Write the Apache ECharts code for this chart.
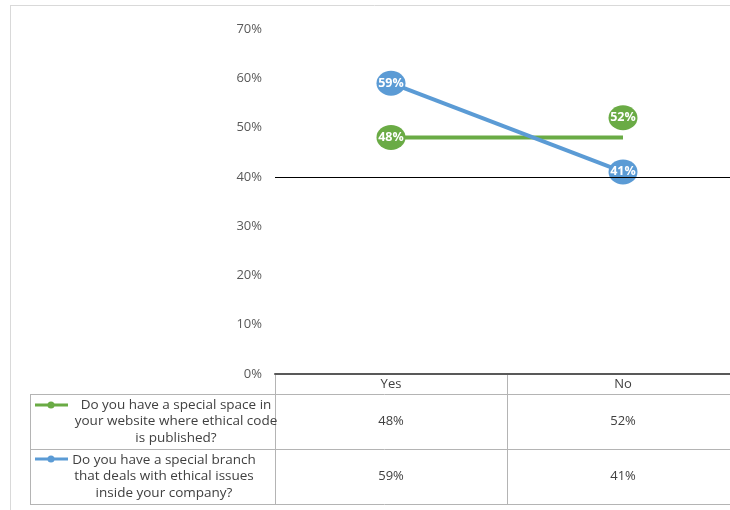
<!DOCTYPE html>
<html><head><meta charset="utf-8">
<script src="https://cdn.jsdelivr.net/npm/echarts@6/dist/echarts.min.js"></script>
<style>html,body{margin:0;padding:0;background:#fff;overflow:hidden;width:730px;height:510px}#c{width:739px;height:510px}</style>
</head><body><div id="c"></div>
<script>
// ---- data ----
const categories = ['Yes', 'No'];
const seriesNames = [
  'Do you have a special space in\nyour website where ethical code\nis published?',
  'Do you have a special branch\nthat deals with ethical issues\ninside your company?'
];
const greenValues = [48, 52];
const blueValues = [59, 41];
const yMin = 0, yMax = 70, yStep = 10;
const crossValue = 40;

// ---- styles ----
const GREEN = '#6AAB45';
const BLUE = '#5B9BD5';
const FONT = 'Open Sans';
const TXT = '#404040';
const GRID = { left: 275, top: 29, right: 0, height: 345 };

const chart = echarts.init(document.getElementById('c'));

function markerLabel() {
  return { show: true, position: 'inside', color: '#fff', fontWeight: 'bold', fontSize: 12.5, fontFamily: FONT,
           formatter: p => p.value + '%' };
}

chart.setOption({
  animation: false,
  grid: { left: GRID.left, top: GRID.top, right: GRID.right, height: GRID.height, containLabel: false },
  xAxis: {
    type: 'category', data: categories, boundaryGap: true,
    axisLine: { show: true, lineStyle: { color: '#595959', width: 2 } },
    axisTick: { show: false },
    axisLabel: { margin: 4, color: TXT, fontSize: 13, fontFamily: FONT },
    splitLine: { show: false }
  },
  yAxis: {
    type: 'value', min: yMin, max: yMax, interval: yStep,
    axisLine: { show: false }, axisTick: { show: false }, splitLine: { show: false },
    axisLabel: { formatter: '{value}%', margin: 13, color: '#595959', fontSize: 13, fontFamily: FONT }
  },
  series: [
    {
      type: 'line', name: 'greenLine', data: [greenValues[0], greenValues[0]],
      showSymbol: false, lineStyle: { color: GREEN, width: 4 }, z: 2,
      markLine: {
        silent: true, symbol: 'none', label: { show: false },
        lineStyle: { color: '#000', width: 1, type: 'solid' },
        data: [{ yAxis: crossValue }]
      }
    },
    {
      type: 'line', name: seriesNames[0], data: greenValues,
      symbol: 'circle', symbolSize: [29, 25], lineStyle: { width: 0, opacity: 0 },
      itemStyle: { color: GREEN }, label: markerLabel(), z: 3
    },
    {
      type: 'line', name: seriesNames[1], data: blueValues,
      symbol: 'circle', symbolSize: [29, 25], lineStyle: { color: BLUE, width: 4 },
      itemStyle: { color: BLUE }, label: markerLabel(), z: 4
    }
  ]
});

// ---- data table under the chart ----
const colors = [GREEN, BLUE];
const values = [greenValues, blueValues];
const rowTop = [394, 449], rowBottom = 504;
const tableLeft = 30, colLeft = GRID.left, right = 739;
const lineC = '#b4b4b4';
const g = [];
// outer chart border
g.push({ type: 'line', shape: { x1: 10, y1: 5.5, x2: 739, y2: 5.5 }, style: { stroke: '#d9d9d9', lineWidth: 1 } });
g.push({ type: 'line', shape: { x1: 10.5, y1: 5, x2: 10.5, y2: 510 }, style: { stroke: '#d9d9d9', lineWidth: 1 } });
// horizontal rules
[rowTop[0], rowTop[1], rowBottom].forEach(y => {
  g.push({ type: 'line', shape: { x1: tableLeft, y1: y + 0.5, x2: right, y2: y + 0.5 }, style: { stroke: lineC, lineWidth: 1 } });
});
// vertical rules
const x0 = chart.convertToPixel({ xAxisIndex: 0 }, categories[0]);
const x1 = chart.convertToPixel({ xAxisIndex: 0 }, categories[1]);
const midX = Math.round((x0 + x1) / 2);
g.push({ type: 'line', shape: { x1: tableLeft + 0.5, y1: rowTop[0], x2: tableLeft + 0.5, y2: rowBottom }, style: { stroke: lineC } });
g.push({ type: 'line', shape: { x1: colLeft + 0.5, y1: 375, x2: colLeft + 0.5, y2: rowBottom }, style: { stroke: lineC } });
g.push({ type: 'line', shape: { x1: midX + 0.5, y1: 375, x2: midX + 0.5, y2: rowBottom }, style: { stroke: lineC } });

const textCenters = [176, 164];
const keyY = [405, 459];
seriesNames.forEach((name, i) => {
  const cy = (rowTop[i] + (i === 0 ? rowTop[1] : rowBottom)) / 2;
  // legend key
  g.push({ type: 'line', shape: { x1: 35, y1: keyY[i], x2: 68, y2: keyY[i] }, style: { stroke: colors[i], lineWidth: 3 } });
  g.push({ type: 'circle', shape: { cx: 51, cy: keyY[i], r: 3.5 }, style: { fill: colors[i] } });
  // row title
  g.push({ type: 'text', x: textCenters[i], y: cy, style: {
    text: name, fill: TXT, font: '13.5px "' + FONT + '"', align: 'center', verticalAlign: 'middle', lineHeight: 16.5 } });
  // cell values
  categories.forEach((c, j) => {
    const x = chart.convertToPixel({ xAxisIndex: 0 }, c);
    g.push({ type: 'text', x: x, y: cy, style: {
      text: values[i][j] + '%', fill: TXT, font: '13px "' + FONT + '"', align: 'center', verticalAlign: 'middle' } });
  });
});
chart.setOption({ graphic: { elements: g } });
</script>
</body></html>
